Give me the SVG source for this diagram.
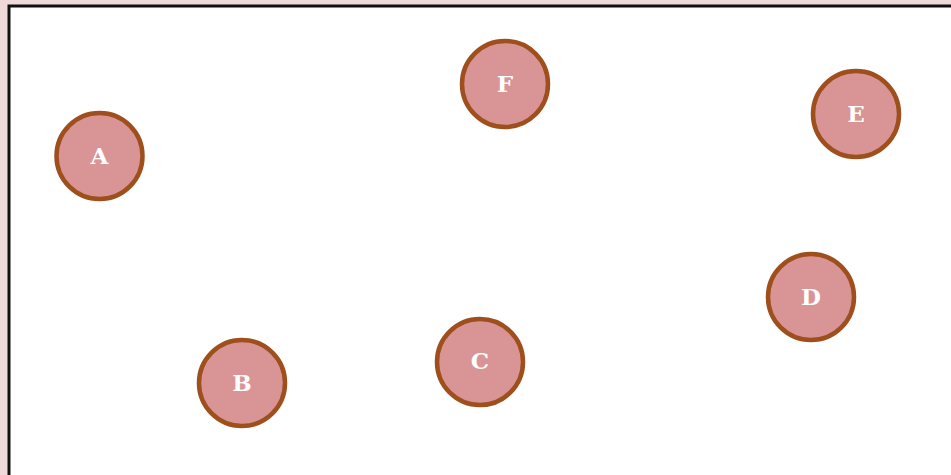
<svg xmlns="http://www.w3.org/2000/svg" width="951" height="475" viewBox="0 0 951 475">
<style>
.n circle{fill:#d99596;stroke:#9e4f1c;stroke-width:4.5}
.n text{fill:#fff;font-family:"DejaVu Serif","Liberation Serif",serif;font-weight:bold;font-size:23px;text-anchor:middle;dominant-baseline:central}
</style>
<rect x="0" y="0" width="951" height="475" fill="#f0d9d9"/>
<rect x="9" y="6" width="945" height="475" fill="#fff" stroke="#111" stroke-width="3"/>
<g id="connectors"></g>
<g id="A" class="n"><circle cx="99.5" cy="156" r="43"/><text x="99.5" y="155">A</text></g>
<g id="B" class="n"><circle cx="242" cy="383" r="43"/><text x="242" y="382">B</text></g>
<g id="C" class="n"><circle cx="480" cy="362" r="43"/><text x="480" y="360">C</text></g>
<g id="D" class="n"><circle cx="811" cy="297" r="43"/><text x="811" y="296">D</text></g>
<g id="E" class="n"><circle cx="856" cy="114" r="43"/><text x="856" y="113">E</text></g>
<g id="F" class="n"><circle cx="505" cy="84" r="43"/><text x="505" y="83">F</text></g>
</svg>
